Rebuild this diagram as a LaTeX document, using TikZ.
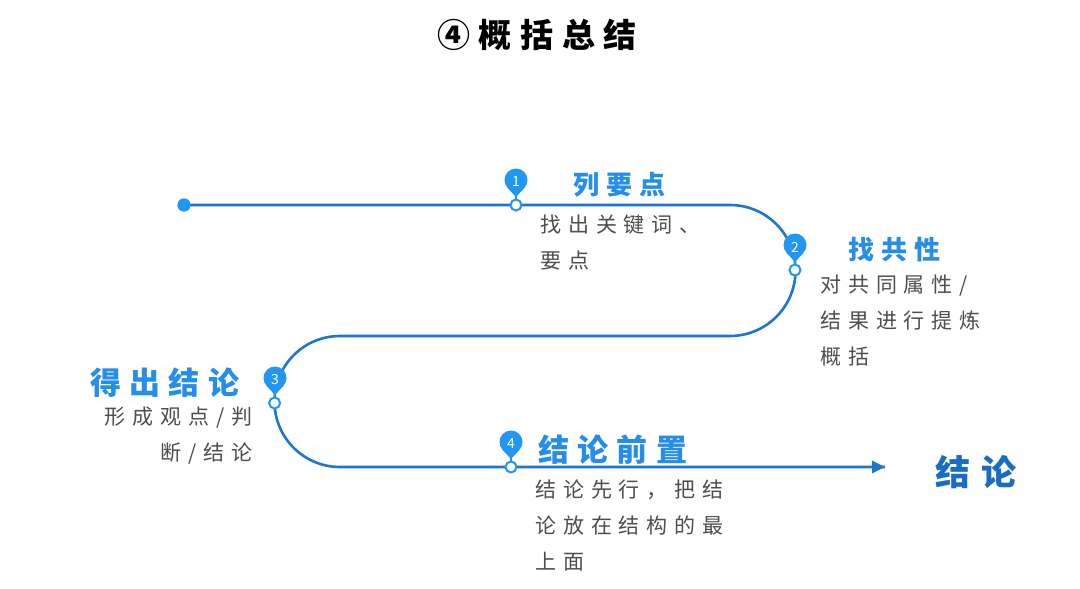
\documentclass[tikz,border=0pt]{standalone}
\usepackage{fontspec}
\newfontfamily\cjk{Noto Sans CJK SC}
\usetikzlibrary{arrows.meta}
\definecolor{lineblue}{RGB}{28,118,206}
\definecolor{pinblue}{RGB}{33,150,243}
\definecolor{headblue}{RGB}{36,142,234}
\definecolor{endblue}{RGB}{24,108,198}
\definecolor{bodygray}{RGB}{78,78,78}
\tikzset{
  route/.style={lineblue, line width=2.6pt},
  ring/.style={circle, draw=pinblue, fill=white, line width=2pt, minimum size=11pt, inner sep=0pt},
  startdot/.style={circle, fill=pinblue, minimum size=13pt, inner sep=0pt},
  pinhead/.style={circle, fill=pinblue, minimum size=23pt, inner sep=0pt},
  pinnum/.style={text=white, inner sep=0pt, font=\cjk\fontsize{14}{14}\selectfont},
  pinlink/.style={pinblue, line width=1.2pt},
  body/.style={bodygray, inner sep=0pt, font=\cjk\fontsize{21}{36}\selectfont\addfontfeatures{LetterSpace=33}},
  headsmall/.style={headblue, inner sep=0pt, anchor=west, font=\cjk\bfseries\fontsize{26}{26}\selectfont\addfontfeatures{LetterSpace=28}},
  headbig/.style={headblue, inner sep=0pt, anchor=west, font=\cjk\bfseries\fontsize{31}{31}\selectfont\addfontfeatures{LetterSpace=27}},
  endlabel/.style={endblue, inner sep=0pt, anchor=west, font=\cjk\bfseries\fontsize{35}{35}\selectfont\addfontfeatures{LetterSpace=32}},
  titlestyle/.style={black, inner sep=0pt, font=\cjk\bfseries\fontsize{33}{33}\selectfont\addfontfeatures{LetterSpace=26}},
}
\newcommand{\pintail}[1]{\fill[pinblue] ([shift={(-8.8,7.5)}]#1.center) -- ([shift={(8.8,7.5)}]#1.center) -- ([shift={(0,17)}]#1.center) -- cycle;}
\begin{document}
\begin{tikzpicture}[x=1pt,y=-1pt]
\useasboundingbox[fill=white] (0,0) rectangle (1080,589);

% title
\node[titlestyle] (title) at (537,35) {④概括总结};

% route
\coordinate (a) at (730,205);
\coordinate (c) at (340,336);
\coordinate (e) at (885,467);
\node[startdot] (s) at (184,205) {};
\draw[route] (s.center) -- (a) arc[start angle=-90,end angle=90,radius=65.5] -- (c) arc[start angle=-90,end angle=-270,radius=65.5] -- (e) ;
\draw[route, -{Triangle[length=13pt,width=12pt]}] (700,467) -- (e);
\node[startdot] at (s) {};

% rings
\node[ring] (r1) at (516,205) {};
\node[ring] (r2) at (795,270) {};
\node[ring] (r3) at (274.6,403) {};
\node[ring] (r4) at (511,467) {};

% pins
\node[pinhead] (p1) at (516,180) {};
\node[pinhead] (p2) at (795,245) {};
\node[pinhead] (p3) at (275,378) {};
\node[pinhead] (p4) at (511,442) {};
\foreach \p/\r in {p1/r1,p2/r2,p3/r3,p4/r4}{
  \draw[pinlink] (\p.center) -- (\r.north);
  \pintail{\p}
}
\node[pinnum] (n1) at ([yshift=-2pt]p1.center) {1};
\node[pinnum] (n2) at ([yshift=-2pt]p2.center) {2};
\node[pinnum] (n3) at ([yshift=-2pt]p3.center) {3};
\node[pinnum] (n4) at ([yshift=-2pt]p4.center) {4};

% headings
\node[headsmall] (h1) at (573,185) {列要点};
\node[headsmall] (h2) at (848,250) {找共性};
\node[headbig] (h3) at (90,383) {得出结论};
\node[headbig] (h4) at (538,450) {结论前置};
\node[endlabel] (h5) at (935,472) {结论};

% body texts
\node[body, anchor=north west, align=left] (b1) at (540,215) {找出关键词、\\要点};
\node[body, anchor=north west, align=left] (b2) at (820,275) {对共同属性/\\结果进行提炼\\概括};
\node[body, anchor=north east, align=right] (b3) at (253,407) {形成观点/判\\断/结论};
\node[body, anchor=north west, align=left] (b4) at (535,480) {结论先行，把结\\论放在结构的最\\上面};
\end{tikzpicture}
\end{document}
